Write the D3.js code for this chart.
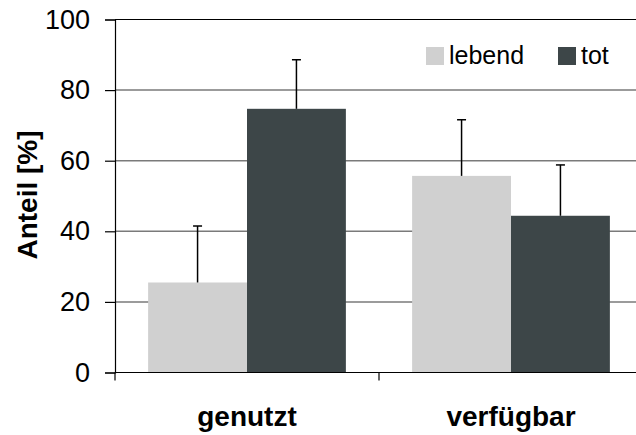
<!DOCTYPE html>
<html>
<head>
<meta charset="utf-8">
<script src="https://cdn.jsdelivr.net/npm/d3@7"></script>
<style>
  body { margin: 0; background: #fff; }
  svg { display: block; font-family: "Liberation Sans", Arial, Helvetica, sans-serif; }
</style>
</head>
<body>
<div class="chart"></div>
<script>
var categories = ['genutzt', 'verfügbar'];
var seriesNames = ['lebend', 'tot'];
var lebend = [25.5, 55.7];
var tot = [74.7, 44.4];
var lebendErr = [16.0, 15.9];
var totErr = [13.9, 14.4];
var yTicks = [0, 20, 40, 60, 80, 100];
var colors = {lebend: '#d0d0d0', tot: '#3d4648'};

var values = {lebend: lebend, tot: tot};
var errors = {lebend: lebendErr, tot: totErr};

var svg = d3.select('.chart')
    .append('svg')
    .attr('width', 636)
    .attr('height', 435);

var x0 = d3.scaleBand().domain(categories).range([115, 643]);
var x1 = d3.scaleBand().domain(seriesNames).range([0, x0.bandwidth()])
    .paddingInner(0).paddingOuter(0.335);
var y = d3.scaleLinear().domain([0, 100]).range([372.5, 19.5]);

// gridlines
svg.selectAll('line.grid')
    .data(yTicks.filter(function (d) { return d > 0; }))
    .enter()
    .append('line')
    .attr('class', 'grid')
    .attr('x1', 115).attr('x2', 643)
    .attr('y1', function (d) { return y(d); })
    .attr('y2', function (d) { return y(d); })
    .attr('stroke', function (d) { return d === 100 ? '#000' : '#7a7a7a'; })
    .attr('stroke-width', function (d) { return d === 100 ? 1.2 : 1.5; });

// bars
var groups = svg.selectAll('g.cat')
    .data(categories)
    .enter()
    .append('g')
    .attr('transform', function (d) { return 'translate(' + x0(d) + ',0)'; });

groups.selectAll('rect')
    .data(function (d, i) {
        return seriesNames.map(function (s) { return {s: s, v: values[s][i], e: errors[s][i]}; });
    })
    .enter()
    .append('rect')
    .attr('x', function (d) { return x1(d.s); })
    .attr('width', x1.bandwidth())
    .attr('y', function (d) { return y(d.v); })
    .attr('height', function (d) { return y(0) - y(d.v); })
    .style('fill', function (d) { return colors[d.s]; });

// error bars (upper only)
var eb = groups.selectAll('g.err')
    .data(function (d, i) {
        return seriesNames.map(function (s) { return {s: s, v: values[s][i], e: errors[s][i]}; });
    })
    .enter()
    .append('g')
    .attr('stroke', '#000')
    .attr('stroke-width', 1.5);

eb.append('line')
    .attr('x1', function (d) { return x1(d.s) + x1.bandwidth() / 2; })
    .attr('x2', function (d) { return x1(d.s) + x1.bandwidth() / 2; })
    .attr('y1', function (d) { return y(d.v); })
    .attr('y2', function (d) { return y(d.v + d.e); });

eb.append('line')
    .attr('x1', function (d) { return x1(d.s) + x1.bandwidth() / 2 - 4.5; })
    .attr('x2', function (d) { return x1(d.s) + x1.bandwidth() / 2 + 4.5; })
    .attr('y1', function (d) { return y(d.v + d.e); })
    .attr('y2', function (d) { return y(d.v + d.e); });

// y axis
var yAxis = svg.append('g')
    .attr('transform', 'translate(115,0)')
    .call(d3.axisLeft(y).tickValues(yTicks).tickSize(10).tickPadding(15));
yAxis.select('.domain').attr('stroke', '#000').attr('stroke-width', 1.2);
yAxis.selectAll('.tick line').attr('stroke', '#000').attr('stroke-width', 1.2);
yAxis.selectAll('.tick text')
    .style('font-size', '27px')
    .style('font-family', '"Liberation Sans", Arial, sans-serif')
    .attr('fill', '#000');

// x axis
svg.append('line')
    .attr('x1', 115).attr('x2', 643)
    .attr('y1', y(0)).attr('y2', y(0))
    .attr('stroke', '#000').attr('stroke-width', 1.2);
svg.selectAll('line.xtick')
    .data(categories)
    .enter()
    .append('line')
    .attr('x1', function (d) { return x0(d); })
    .attr('x2', function (d) { return x0(d); })
    .attr('y1', y(0)).attr('y2', y(0) + 8)
    .attr('stroke', '#000').attr('stroke-width', 1.2);

svg.selectAll('text.cat')
    .data(categories)
    .enter()
    .append('text')
    .attr('x', function (d) { return x0(d) + x0.bandwidth() / 2; })
    .attr('y', 426)
    .attr('text-anchor', 'middle')
    .style('font-size', '28px')
    .style('font-weight', 'bold')
    .text(function (d) { return d; });

// y title
svg.append('text')
    .attr('transform', 'translate(37,195) rotate(-90)')
    .attr('text-anchor', 'middle')
    .style('font-size', '28px')
    .style('font-weight', 'bold')
    .text('Anteil [%]');

// legend
var legendX = [426, 558];
var legend = svg.selectAll('g.legend')
    .data(seriesNames)
    .enter()
    .append('g')
    .attr('transform', function (d, i) { return 'translate(' + legendX[i] + ',47)'; });
legend.append('rect')
    .attr('width', 18).attr('height', 18)
    .style('fill', function (d) { return colors[d]; });
legend.append('text')
    .attr('x', 23).attr('y', 17)
    .style('font-size', '25px')
    .text(function (d) { return d; });
</script>
</body>
</html>
